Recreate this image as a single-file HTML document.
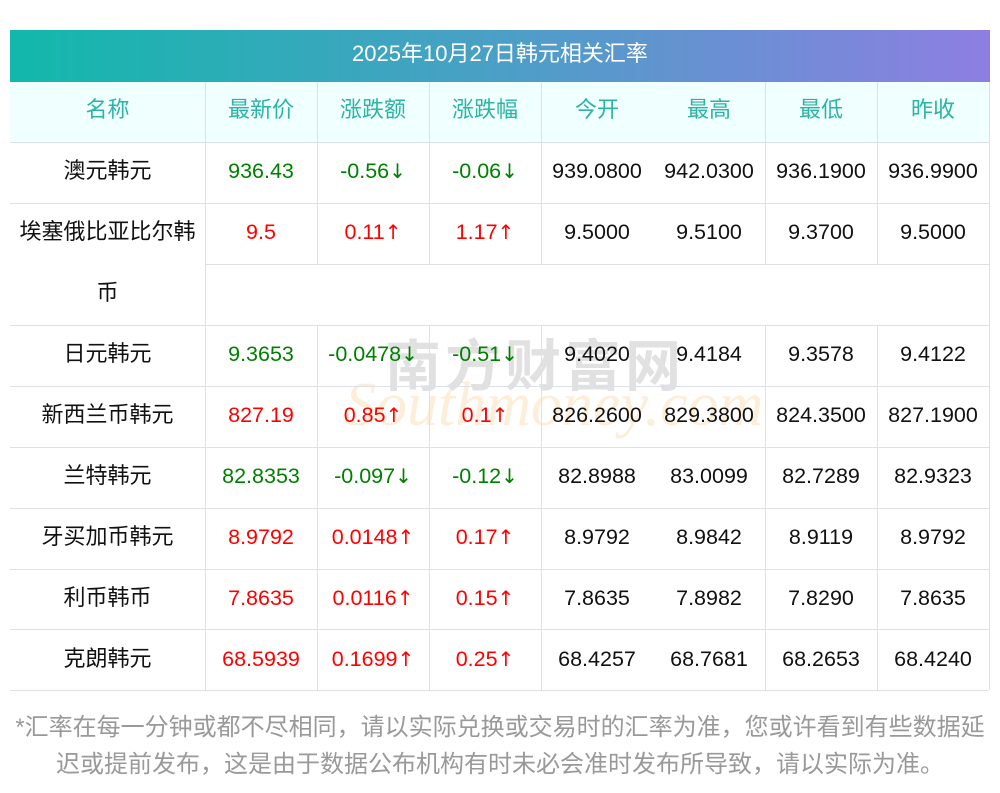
<!DOCTYPE html>
<html><head><meta charset="utf-8"><style>
body{margin:0;width:1000px;height:793px;background:#fff;position:relative;font-family:"Liberation Sans","Noto Sans CJK SC",sans-serif;overflow:hidden}
.t{position:absolute;left:10px;top:30px;width:980px;height:52px;background:linear-gradient(90deg,#12b8ab,#4b9fc6 50%,#8e7ee2);color:#fff;font-size:22px;text-align:center;line-height:48px}
.hb{position:absolute;left:10px;top:82px;width:979px;height:60px;background:#f0ffff}
.h{position:absolute;height:1px;background:#dde0ea}
.v{position:absolute;width:1px;background:#dde0ea}
.c{position:absolute;width:112px;text-align:center;font-size:21.5px;color:#111;line-height:22px;white-space:nowrap}
.n{width:195px;left:10px;font-size:22px}
.hd{color:#2bb3a6;font-size:22px}
.g{color:#008000}.r{color:#f00}
.a{font-family:"DejaVu Sans",sans-serif;font-size:20px}
.f{position:absolute;left:0;width:1000px;text-align:center;color:#999;font-size:24px;white-space:nowrap}
.wm{position:absolute;left:385px;top:322px;font-size:56px;color:rgba(120,120,120,.22);font-weight:bold;letter-spacing:4px}
.wm2{position:absolute;left:345px;top:370px;font-size:62px;font-style:italic;color:rgba(250,200,130,.3);font-family:"Liberation Serif",serif}
</style></head><body>
<div class="t">2025年10月27日韩元相关汇率</div>
<div class="hb"></div>
<div class="wm2">Southmoney.com</div>
<div class="wm">南方财富网</div>
<div class="h" style="left:10px;width:979px;top:142px"></div>
<div class="h" style="left:10px;width:979px;top:203px"></div>
<div class="h" style="left:205px;width:784px;top:264px"></div>
<div class="h" style="left:10px;width:979px;top:325px"></div>
<div class="h" style="left:10px;width:979px;top:386px"></div>
<div class="h" style="left:10px;width:979px;top:447px"></div>
<div class="h" style="left:10px;width:979px;top:508px"></div>
<div class="h" style="left:10px;width:979px;top:569px"></div>
<div class="h" style="left:10px;width:979px;top:629px"></div>
<div class="h" style="left:10px;width:979px;top:690px"></div>
<div class="v" style="left:205px;top:82px;height:608px"></div>
<div class="v" style="left:317px;top:82px;height:182px"></div>
<div class="v" style="left:429px;top:82px;height:182px"></div>
<div class="v" style="left:541px;top:82px;height:182px"></div>
<div class="v" style="left:765px;top:82px;height:182px"></div>
<div class="v" style="left:877px;top:82px;height:182px"></div>
<div class="v" style="left:989px;top:82px;height:608px"></div>
<div class="v" style="left:317px;top:325px;height:365px"></div>
<div class="v" style="left:429px;top:325px;height:365px"></div>
<div class="v" style="left:541px;top:325px;height:365px"></div>
<div class="v" style="left:765px;top:325px;height:365px"></div>
<div class="v" style="left:877px;top:325px;height:365px"></div>

<div class="c n hd" style="top:99px">名称</div>
<div class="c hd" style="left:205px;top:99px">最新价</div>
<div class="c hd" style="left:317px;top:99px">涨跌额</div>
<div class="c hd" style="left:429px;top:99px">涨跌幅</div>
<div class="c hd" style="left:541px;top:99px">今开</div>
<div class="c hd" style="left:653px;top:99px">最高</div>
<div class="c hd" style="left:765px;top:99px">最低</div>
<div class="c hd" style="left:877px;top:99px">昨收</div>

<div class="c n" style="top:160px">澳元韩元</div>
<div class="c g" style="left:205px;top:160px">936.43</div>
<div class="c g" style="left:317px;top:160px">-0.56<span class="a">↓</span></div>
<div class="c g" style="left:429px;top:160px">-0.06<span class="a">↓</span></div>
<div class="c" style="left:541px;top:160px">939.0800</div>
<div class="c" style="left:653px;top:160px">942.0300</div>
<div class="c" style="left:765px;top:160px">936.1900</div>
<div class="c" style="left:877px;top:160px">936.9900</div>

<div class="c n" style="top:221px">埃塞俄比亚比尔韩</div>
<div class="c n" style="top:282px">币</div>
<div class="c r" style="left:205px;top:221px">9.5</div>
<div class="c r" style="left:317px;top:221px">0.11<span class="a">↑</span></div>
<div class="c r" style="left:429px;top:221px">1.17<span class="a">↑</span></div>
<div class="c" style="left:541px;top:221px">9.5000</div>
<div class="c" style="left:653px;top:221px">9.5100</div>
<div class="c" style="left:765px;top:221px">9.3700</div>
<div class="c" style="left:877px;top:221px">9.5000</div>

<div class="c n" style="top:343px">日元韩元</div>
<div class="c g" style="left:205px;top:343px">9.3653</div>
<div class="c g" style="left:317px;top:343px">-0.0478<span class="a">↓</span></div>
<div class="c g" style="left:429px;top:343px">-0.51<span class="a">↓</span></div>
<div class="c" style="left:541px;top:343px">9.4020</div>
<div class="c" style="left:653px;top:343px">9.4184</div>
<div class="c" style="left:765px;top:343px">9.3578</div>
<div class="c" style="left:877px;top:343px">9.4122</div>

<div class="c n" style="top:404px">新西兰币韩元</div>
<div class="c r" style="left:205px;top:404px">827.19</div>
<div class="c r" style="left:317px;top:404px">0.85<span class="a">↑</span></div>
<div class="c r" style="left:429px;top:404px">0.1<span class="a">↑</span></div>
<div class="c" style="left:541px;top:404px">826.2600</div>
<div class="c" style="left:653px;top:404px">829.3800</div>
<div class="c" style="left:765px;top:404px">824.3500</div>
<div class="c" style="left:877px;top:404px">827.1900</div>

<div class="c n" style="top:465px">兰特韩元</div>
<div class="c g" style="left:205px;top:465px">82.8353</div>
<div class="c g" style="left:317px;top:465px">-0.097<span class="a">↓</span></div>
<div class="c g" style="left:429px;top:465px">-0.12<span class="a">↓</span></div>
<div class="c" style="left:541px;top:465px">82.8988</div>
<div class="c" style="left:653px;top:465px">83.0099</div>
<div class="c" style="left:765px;top:465px">82.7289</div>
<div class="c" style="left:877px;top:465px">82.9323</div>

<div class="c n" style="top:526px">牙买加币韩元</div>
<div class="c r" style="left:205px;top:526px">8.9792</div>
<div class="c r" style="left:317px;top:526px">0.0148<span class="a">↑</span></div>
<div class="c r" style="left:429px;top:526px">0.17<span class="a">↑</span></div>
<div class="c" style="left:541px;top:526px">8.9792</div>
<div class="c" style="left:653px;top:526px">8.9842</div>
<div class="c" style="left:765px;top:526px">8.9119</div>
<div class="c" style="left:877px;top:526px">8.9792</div>

<div class="c n" style="top:587px">利币韩币</div>
<div class="c r" style="left:205px;top:587px">7.8635</div>
<div class="c r" style="left:317px;top:587px">0.0116<span class="a">↑</span></div>
<div class="c r" style="left:429px;top:587px">0.15<span class="a">↑</span></div>
<div class="c" style="left:541px;top:587px">7.8635</div>
<div class="c" style="left:653px;top:587px">7.8982</div>
<div class="c" style="left:765px;top:587px">7.8290</div>
<div class="c" style="left:877px;top:587px">7.8635</div>

<div class="c n" style="top:648px">克朗韩元</div>
<div class="c r" style="left:205px;top:648px">68.5939</div>
<div class="c r" style="left:317px;top:648px">0.1699<span class="a">↑</span></div>
<div class="c r" style="left:429px;top:648px">0.25<span class="a">↑</span></div>
<div class="c" style="left:541px;top:648px">68.4257</div>
<div class="c" style="left:653px;top:648px">68.7681</div>
<div class="c" style="left:765px;top:648px">68.2653</div>
<div class="c" style="left:877px;top:648px">68.4240</div>

<div class="f" style="top:707px">*汇率在每一分钟或都不尽相同，请以实际兑换或交易时的汇率为准，您或许看到有些数据延</div>
<div class="f" style="top:744px">迟或提前发布，这是由于数据公布机构有时未必会准时发布所导致，请以实际为准。</div>
</body></html>
